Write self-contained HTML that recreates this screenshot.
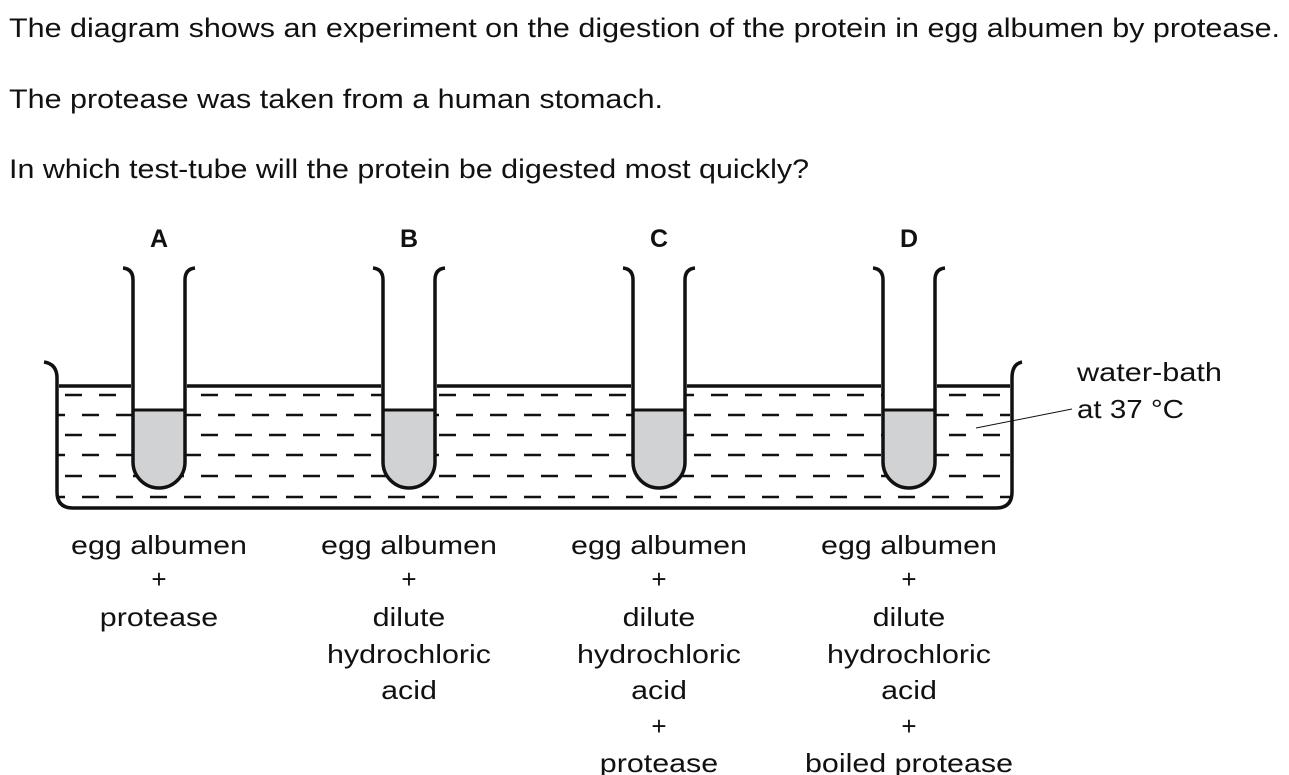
<!DOCTYPE html>
<html><head><meta charset="utf-8"><style>
html,body{margin:0;padding:0;background:#fff;}
svg{display:block;font-family:"Liberation Sans",Arial,sans-serif;}
</style></head><body>
<svg width="1289" height="775" viewBox="0 0 1289 775">
<g font-size="26.5" fill="#111">
<text x="9" y="37" textLength="1271" lengthAdjust="spacingAndGlyphs">The diagram shows an experiment on the digestion of the protein in egg albumen by protease.</text>
<text x="9" y="108" textLength="654" lengthAdjust="spacingAndGlyphs">The protease was taken from a human stomach.</text>
<text x="9" y="178" textLength="800" lengthAdjust="spacingAndGlyphs">In which test-tube will the protein be digested most quickly?</text>
</g>
<g id="dashes" stroke="#111" stroke-width="2.5"></g>
<path d="M44,362 Q57,364 57,378 L57,492 Q57,508 73,508 L996,508 Q1012,508 1012,492 L1012,378 Q1012,364 1022,362" fill="none" stroke="#111" stroke-width="3.5"/>
<g id="tubes"></g>
<line x1="976" y1="428" x2="1072" y2="409" stroke="#111" stroke-width="1"/>
<g font-size="26" fill="#111">
<text x="1077" y="381" textLength="145" lengthAdjust="spacingAndGlyphs">water-bath</text>
<text x="1077" y="418" textLength="107" lengthAdjust="spacingAndGlyphs">at 37 °C</text>
</g>
<g id="labels" font-size="26" fill="#111" text-anchor="middle"></g>
</svg>
<script>
const ns="http://www.w3.org/2000/svg";
const tubeX=[133,383,633,883];
const letters=["A","B","C","D"];
const contents=[["egg albumen","+","protease"],["egg albumen","+","dilute","hydrochloric","acid"],["egg albumen","+","dilute","hydrochloric","acid","+","protease"],["egg albumen","+","dilute","hydrochloric","acid","+","boiled protease"]];
const tubes=document.getElementById('tubes');
const labels=document.getElementById('labels');
const dashes=document.getElementById('dashes');
const rows=[395,415,435,455,476,497];
rows.forEach((y,i)=>{
  const l=document.createElementNS(ns,'line');
  
  
  const start=(i%2===0)?65:48;
  l.setAttribute('x1',start);l.setAttribute('y1',y);l.setAttribute('x2',1010);l.setAttribute('y2',y);
  l.setAttribute('stroke-dasharray','17 17');
  dashes.appendChild(l);
});
const cover=document.createElementNS(ns,'rect');
cover.setAttribute('x',0);cover.setAttribute('y',380);cover.setAttribute('width',58);cover.setAttribute('height',130);cover.setAttribute('fill','#fff');cover.setAttribute('stroke','none');


dashes.appendChild(cover);
let segs=[[59,tubeX[0]-2]];
for(let i=0;i<3;i++)segs.push([tubeX[i]+54,tubeX[i+1]-2]);
segs.push([tubeX[3]+54,1010]);
segs.forEach(s=>{
  const p=document.createElementNS(ns,'path');
  
  
  p.setAttribute('d',`M${s[0]},386 L${s[1]},386`);
  p.setAttribute('stroke','#111');p.setAttribute('stroke-width','3.5');
  tubes.appendChild(p);
});
tubeX.forEach((x,i)=>{
  const r=26,cx=x+26;
  const bg=document.createElementNS(ns,'rect');
  bg.setAttribute('x',x);bg.setAttribute('y',280);bg.setAttribute('width',52);bg.setAttribute('height',130);bg.setAttribute('fill','#fff');
  
  
  tubes.appendChild(bg);
  const fill=document.createElementNS(ns,'path');
  
  
  fill.setAttribute('d',`M${x},410 L${x+52},410 L${x+52},462 A${r} ${r} 0 0 1 ${x},462 Z`);
  fill.setAttribute('fill','#d1d2d4');
  tubes.appendChild(fill);
  const t=document.createElementNS(ns,'path');
  
  
  t.setAttribute('d',`M${x-10},268 Q${x},269 ${x},280 L${x},462 A${r} ${r} 0 0 0 ${x+52},462 L${x+52},280 Q${x+52},269 ${x+62},268`);
  t.setAttribute('fill','none');t.setAttribute('stroke','#111');t.setAttribute('stroke-width','3.5');
  tubes.appendChild(t);
  const m=document.createElementNS(ns,'line');
  
  
  m.setAttribute('x1',x);m.setAttribute('x2',x+52);m.setAttribute('y1',410);m.setAttribute('y2',410);
  m.setAttribute('stroke','#111');m.setAttribute('stroke-width','3');
  tubes.appendChild(m);
  const L=document.createElementNS(ns,'text');
  
  
  L.setAttribute('x',cx);L.setAttribute('y',247);L.setAttribute('font-weight','bold');L.setAttribute('font-size','25');
  L.textContent=letters[i];
  labels.appendChild(L);
  const ys=[554,588,626,663,699,735,772];
  contents[i].forEach((s,j)=>{
    const tx=document.createElementNS(ns,'text');
    
    
    tx.setAttribute('x',cx);tx.setAttribute('y',ys[j]);
    tx.textContent=s;
    labels.appendChild(tx);
    if(s.length>1){
      const w=tx.getComputedTextLength();
      tx.setAttribute('textLength',(w*1.17).toFixed(1));
      tx.setAttribute('lengthAdjust','spacingAndGlyphs');
    }
  });
});
</script>
</body></html>
